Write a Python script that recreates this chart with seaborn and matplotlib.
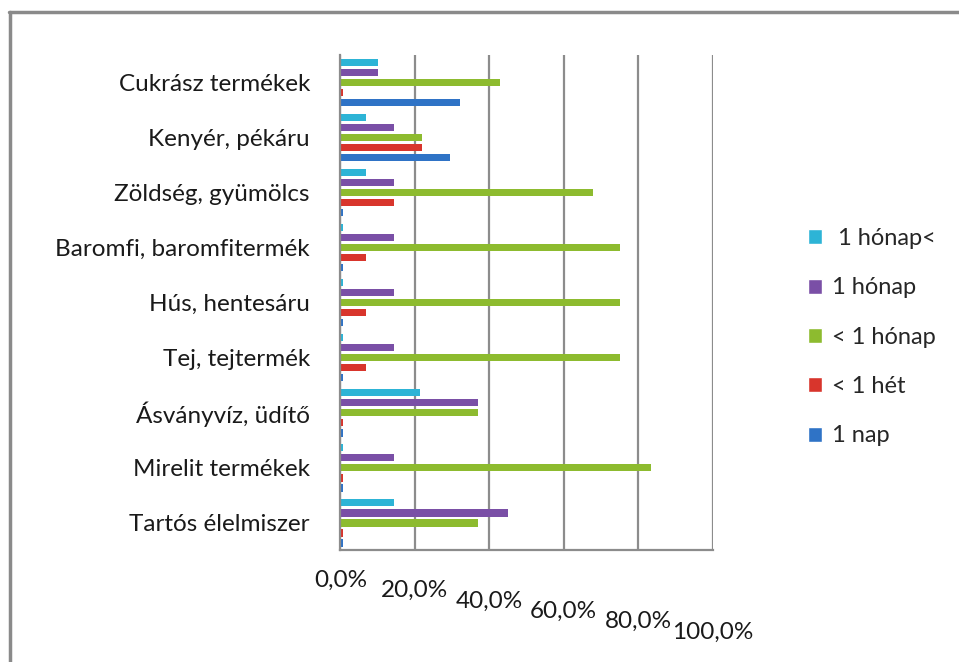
import numpy as np
import pandas as pd
import matplotlib
matplotlib.use("Agg")
import matplotlib.pyplot as plt
from matplotlib.lines import Line2D
from matplotlib.ticker import FuncFormatter
import seaborn as sns

# kategóriák felülről lefelé
categories = [
    "Cukrász termékek", "Kenyér, pékáru", "Zöldség, gyümölcs",
    "Baromfi, baromfitermék", "Hús, hentesáru", "Tej, tejtermék",
    "Ásványvíz, üdítő", "Mirelit termékek", "Tartós élelmiszer",
]
series = [" 1 hónap<", "1 hónap", "< 1 hónap", "< 1 hét", "1 nap"]

# értékek (%) a képről becsülve
honap_tobb = [10.0, 7.0, 7.0, 0.8, 0.8, 0.8, 21.5, 0.8, 14.5]
honap_egy = [10.0, 14.5, 14.5, 14.5, 14.5, 14.5, 37.0, 14.5, 45.0]
honap_kevesebb = [43.0, 22.0, 68.0, 75.0, 75.0, 75.0, 37.0, 83.5, 37.0]
het_kevesebb = [0.8, 22.0, 14.5, 7.0, 7.0, 7.0, 0.8, 0.8, 0.8]
nap_egy = [32.0, 29.5, 0.8, 0.8, 0.8, 0.8, 0.8, 0.8, 0.8]

colors = ["#2db4d6", "#7a4fa6", "#8dbb2f", "#d8352c", "#2f73c6"]

values = [honap_tobb, honap_egy, honap_kevesebb, het_kevesebb, nap_egy]
df = pd.DataFrame({
    "kategoria": np.tile(categories, len(series)),
    "sorozat": np.repeat(series, len(categories)),
    "ertek": np.concatenate(values),
})

sns.set_style("white")
plt.rcParams["font.family"] = ["Lato", "DejaVu Sans"]

fig = plt.figure(figsize=(9.59, 6.62), dpi=100)
ax = fig.add_axes([0.355, 0.169, 0.388, 0.748])

sns.barplot(data=df, y="kategoria", x="ertek", hue="sorozat",
            order=categories, hue_order=series, palette=colors, saturation=1,
            orient="h", width=0.91, errorbar=None, ax=ax, legend=True)

# vékonyabb oszlopok, réssel
for p in ax.patches:
    h = p.get_height()
    if h <= 0:
        continue
    yc = p.get_y() + h / 2
    nh = h * 0.78
    p.set_y(yc - nh / 2)
    p.set_height(nh)
    p.set_linewidth(0)

ax.set_xlim(0, 100)
ax.set_ylim(len(categories) - 0.5, -0.5)
ax.set_xticks(np.arange(0, 101, 20))
ax.xaxis.set_major_formatter(FuncFormatter(lambda v, _: f"{v:.1f}%".replace(".", ",")))
ax.grid(axis="x", color="#8c8c8c", linewidth=1.6)
ax.set_axisbelow(True)
ax.set_xlabel("")
ax.set_ylabel("")

for s in ["top", "right"]:
    ax.spines[s].set_visible(False)
for s in ["left", "bottom"]:
    ax.spines[s].set_color("#8c8c8c")
    ax.spines[s].set_linewidth(1.6)

ax.tick_params(axis="y", which="major", length=0, pad=22, labelsize=17.5, labelcolor="#1a1a1a")
ax.set_yticks(np.arange(-0.5, len(categories), 1), minor=True)
ax.tick_params(axis="y", which="minor", length=9, width=1.6, color="#8c8c8c")
ax.tick_params(axis="x", length=6, width=1.6, color="#8c8c8c", labelsize=17.5, labelcolor="#1a1a1a")
for i, t in enumerate(ax.xaxis.get_major_ticks()):
    t.set_pad(8 + i * 7.5)

handles, labels = ax.get_legend_handles_labels()
ax.legend(handles, labels, loc="center left", bbox_to_anchor=(1.2, 0.43),
          frameon=False, fontsize=17, labelspacing=1.2,
          handlelength=0.6, handleheight=0.6, handletextpad=0.4)

fig.add_artist(Line2D([9 / 959, 1], [1 - 12 / 662, 1 - 12 / 662], color="#8a8a8a", linewidth=2.5))
fig.add_artist(Line2D([10 / 959, 10 / 959], [0, 1 - 12 / 662], color="#8a8a8a", linewidth=2.5))

fig.savefig("out.png", dpi=100, facecolor="white")
